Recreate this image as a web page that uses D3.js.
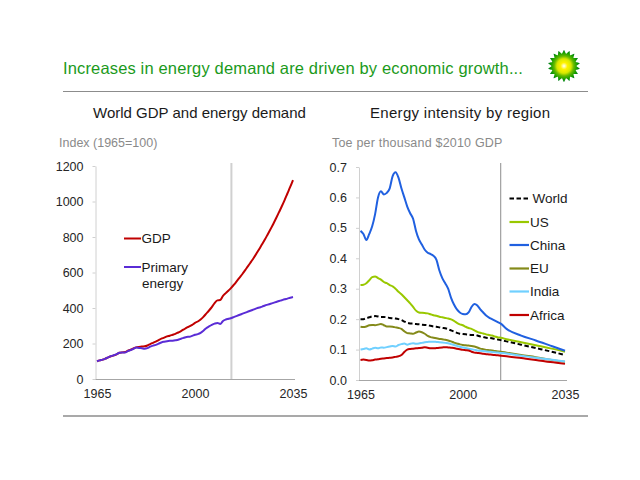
<!DOCTYPE html>
<html><head><meta charset="utf-8">
<script src="https://cdn.jsdelivr.net/npm/d3@7"></script>
<style>body{margin:0;background:#fff}svg{display:block;font-family:"Liberation Sans",Arial,sans-serif}</style>
</head><body>
<svg id="c" width="640" height="480"></svg>
<script>
// ---------- data ----------
const gdpYears = [1965,1966,1967,1968,1969,1970,1971,1972,1973,1974,1975,1976,1977,1978,1979,1980,1981,1982,1983,1984,1985,1986,1987,1988,1989,1990,1991,1992,1993,1994,1995,1996,1997,1998,1999,2000,2001,2002,2003,2004,2005,2006,2007,2008,2009,2010,2011,2012,2013,2014,2015,2016,2017,2018,2019,2020,2021,2022,2023,2024,2025,2026,2027,2028,2029,2030,2031,2032,2033,2034,2035];
const gdpIndex = [100,105,109,115,122,128,133,139,148,150,152,159,165,172,178,181,183,184,189,197,204,211,219,227,233,240,244,249,254,262,270,279,289,296,305,316,324,335,350,368,386,405,428,443,445,468,484,499,515,533,553,573,593,615,637,660,683,708,734,760,787,816,845,875,907,940,973,1008,1045,1082,1121];
const energyIndex = [100,105,109,115,122,129,134,140,148,149,149,157,163,170,177,175,173,171,174,182,188,192,199,206,210,213,215,216,218,221,227,232,237,238,243,249,253,260,272,286,296,305,312,316,310,327,335,339,344,350,356,362,368,374,380,386,392,398,403,408,414,419,424,429,434,439,444,449,453,458,462];

const intYears = [1965,1966,1967,1968,1969,1970,1971,1972,1973,1974,1975,1976,1977,1978,1979,1980,1981,1982,1983,1984,1985,1986,1987,1988,1989,1990,1991,1992,1993,1994,1995,1996,1997,1998,1999,2000,2001,2002,2003,2004,2005,2006,2007,2008,2009,2010,2011,2012,2013,2015,2020,2025,2030,2035];
const china = [.490,.480,.460,.480,.505,.545,.600,.620,.610,.615,.630,.670,.683,.665,.630,.600,.570,.548,.530,.490,.462,.445,.428,.418,.414,.408,.395,.360,.335,.318,.300,.270,.248,.232,.222,.217,.216,.222,.240,.250,.245,.232,.222,.212,.205,.200,.195,.190,.185,.168,.146,.130,.113,.096];
const us = [.312,.313,.318,.328,.338,.340,.335,.330,.322,.318,.312,.308,.300,.290,.282,.272,.262,.252,.240,.228,.222,.221,.220,.219,.216,.213,.211,.208,.206,.204,.202,.199,.194,.188,.183,.180,.175,.171,.168,.163,.158,.155,.153,.150,.148,.146,.143,.140,.139,.134,.124,.114,.104,.093];
const world = [.200,.200,.203,.206,.209,.210,.209,.207,.207,.206,.204,.203,.202,.200,.197,.192,.188,.186,.185,.184,.183,.182,.181,.180,.178,.176,.175,.173,.171,.170,.167,.163,.159,.155,.152,.151,.150,.149,.148,.148,.146,.143,.141,.139,.138,.137,.135,.133,.131,.127,.116,.105,.094,.082];
const eu = [.175,.174,.176,.180,.181,.180,.182,.184,.180,.176,.176,.175,.173,.171,.168,.160,.154,.153,.152,.156,.159,.157,.152,.145,.141,.139,.137,.135,.134,.132,.130,.127,.123,.120,.117,.115,.114,.113,.112,.110,.107,.103,.101,.099,.098,.097,.095,.094,.093,.090,.082,.075,.067,.060];
const india = [.100,.102,.104,.100,.103,.106,.104,.107,.106,.108,.110,.112,.110,.115,.118,.120,.116,.119,.121,.119,.120,.122,.124,.125,.126,.126,.125,.124,.123,.122,.121,.118,.115,.112,.109,.107,.105,.103,.101,.099,.097,.096,.095,.094,.093,.092,.091,.090,.089,.087,.080,.073,.067,.061];
const africa = [.066,.067,.066,.064,.065,.067,.068,.070,.071,.072,.073,.074,.076,.078,.082,.092,.100,.102,.103,.104,.105,.106,.108,.106,.104,.104,.105,.106,.107,.108,.107,.106,.105,.103,.101,.099,.098,.097,.093,.090,.089,.088,.086,.085,.084,.083,.082,.081,.080,.078,.072,.066,.059,.053];

const leftYTicks = [0,200,400,600,800,1000,1200];
const rightYTicks = [0,0.1,0.2,0.3,0.4,0.5,0.6,0.7];
const xTicks = [1965,2000,2035];
const outlookStart = 2013;

const titleText = "Increases in energy demand are driven by economic growth...";
const leftTitle = "World GDP and energy demand";
const rightTitle = "Energy intensity by region";
const leftUnit = "Index (1965=100)";
const rightUnit = "Toe per thousand $2010 GDP";

const leftSeries = [
  {name:"GDP", values:gdpIndex, color:"#c00000"},
  {name:"Primary energy", values:energyIndex, color:"#5a2cd6"}
];
const rightSeries = [
  {name:"World", values:world, color:"#000000", dash:"4.5,2.5"},
  {name:"US", values:us, color:"#99c800"},
  {name:"China", values:china, color:"#2060e0"},
  {name:"EU", values:eu, color:"#848a1a"},
  {name:"India", values:india, color:"#70d0ff"},
  {name:"Africa", values:africa, color:"#c00000"}
];

// ---------- drawing ----------
const svg = d3.select("#c");

// title
svg.append("text").attr("x",63).attr("y",74).attr("font-size",16.5).attr("letter-spacing",0.15).attr("fill","#1b9a1b").text(titleText);

// BP helios logo
const logo = svg.append("g").attr("transform","translate(564,66)");
const defs = svg.append("defs");
const rg = defs.append("radialGradient").attr("id","bpg");
[[0,"#ffffff"],[0.22,"#fff200"],[0.45,"#d8e800"],[0.62,"#66bb00"],[0.85,"#119a00"],[1,"#007a20"]].forEach(s=>rg.append("stop").attr("offset",s[0]).attr("stop-color",s[1]));
const nPet = 18, pts=[];
for(let i=0;i<nPet*2;i++){const a=i*Math.PI/nPet; const r=i%2?12.5:16; pts.push([r*Math.sin(a),-r*Math.cos(a)]);}
logo.append("path").attr("d",d3.line().curve(d3.curveCardinalClosed.tension(0.3))(pts)).attr("fill","url(#bpg)");

// rules
svg.append("line").attr("x1",63).attr("x2",588).attr("y1",91.5).attr("y2",91.5).attr("stroke","#8c8c8c").attr("stroke-width",1.2);
svg.append("line").attr("x1",63).attr("x2",588).attr("y1",416).attr("y2",416).attr("stroke","#8c8c8c").attr("stroke-width",1.4);

// subtitles
svg.append("text").attr("x",93).attr("y",118).attr("font-size",15).attr("fill","#1a1a1a").text(leftTitle);
svg.append("text").attr("x",370).attr("y",118).attr("font-size",15).attr("letter-spacing",0.3).attr("fill","#1a1a1a").text(rightTitle);
svg.append("text").attr("x",59).attr("y",147).attr("font-size",12.5).attr("fill","#8a8a8a").text(leftUnit);
svg.append("text").attr("x",332).attr("y",147).attr("font-size",12.5).attr("letter-spacing",0.2).attr("fill","#8a8a8a").text(rightUnit);

function panel(opts){
  const {x0,x1,y0,y1,yDomain,yTicks,fmt,years,series,vlineColor,vlineWidth} = opts;
  const x = d3.scaleLinear().domain([1965,2035]).range([x0,x1]);
  const y = d3.scaleLinear().domain(yDomain).range([y0,y1]);
  const g = svg.append("g");
  // outlook line
  g.append("line").attr("x1",x(outlookStart)).attr("x2",x(outlookStart)).attr("y1",163).attr("y2",y0)
    .attr("stroke",vlineColor).attr("stroke-width",vlineWidth);
  // y axis
  const ya = g.append("g").attr("transform",`translate(${x0-1.5},0)`)
    .call(d3.axisLeft(y).tickValues(yTicks).tickFormat(fmt).tickSize(3).tickSizeOuter(0).tickPadding(9));
  ya.select(".domain").attr("stroke","#d0d0d0");
  ya.selectAll(".tick line").attr("stroke","#d0d0d0");
  ya.selectAll("text").attr("font-size",12.5).attr("fill","#262626").attr("font-family","'Liberation Sans',Arial,sans-serif");
  // x axis
  const xa = g.append("g").attr("transform",`translate(0,${y0+0.5})`)
    .call(d3.axisBottom(x).tickValues(xTicks).tickFormat(d3.format("d")).tickSize(0).tickSizeOuter(0).tickPadding(10));
  xa.select(".domain").attr("stroke","#a6a6a6").attr("d",`M${x0-1.5},0H${x1+2}`);
  xa.selectAll("text").attr("font-size",12.5).attr("fill","#262626").attr("font-family","'Liberation Sans',Arial,sans-serif");
  // lines
  const line = d3.line().x((d,i)=>x(years[i])).y(d=>y(d)).curve(d3.curveMonotoneX);
  series.forEach(s=>{
    g.append("path").datum(s.values).attr("d",line).attr("fill","none")
      .attr("stroke",s.color).attr("stroke-width",2).attr("stroke-dasharray",s.dash||null)
      .attr("stroke-linejoin","round");
  });
  return {x,y};
}

panel({x0:97,x1:293,y0:379,y1:166,yDomain:[0,1200],yTicks:leftYTicks,fmt:d3.format("d"),
  years:gdpYears,series:leftSeries,vlineColor:"#d0d0d0",vlineWidth:2});
panel({x0:360.5,x1:565,y0:380,y1:167,yDomain:[0,0.7],yTicks:rightYTicks,fmt:d3.format(".1f"),
  years:intYears,series:rightSeries,vlineColor:"#8c8c8c",vlineWidth:1});

// left legend
const ll = svg.append("g").attr("font-size",13.5).attr("fill","#1a1a1a");
ll.append("line").attr("x1",124).attr("x2",141).attr("y1",238.5).attr("y2",238.5).attr("stroke",leftSeries[0].color).attr("stroke-width",2);
ll.append("text").attr("x",141.5).attr("y",243).text(leftSeries[0].name);
ll.append("line").attr("x1",124).attr("x2",141).attr("y1",267).attr("y2",267).attr("stroke",leftSeries[1].color).attr("stroke-width",2);
const words = leftSeries[1].name.split(" ");
ll.append("text").attr("x",141.5).attr("y",271.5).text(words[0]);
ll.append("text").attr("x",142).attr("y",288).text(words[1]);

// right legend
const rl = svg.append("g").attr("font-size",13.5).attr("fill","#1a1a1a");
const legY = [198.5,222,245,268.5,291.5,315];
rightSeries.forEach((s,i)=>{
  rl.append("line").attr("x1",509.5).attr("x2",529).attr("y1",legY[i]).attr("y2",legY[i])
    .attr("stroke",s.color).attr("stroke-width",2.2).attr("stroke-dasharray",s.dash||null);
  rl.append("text").attr("x",s.dash?532.5:530).attr("y",legY[i]+4.5).text(s.name);
});
</script>
</body></html>
